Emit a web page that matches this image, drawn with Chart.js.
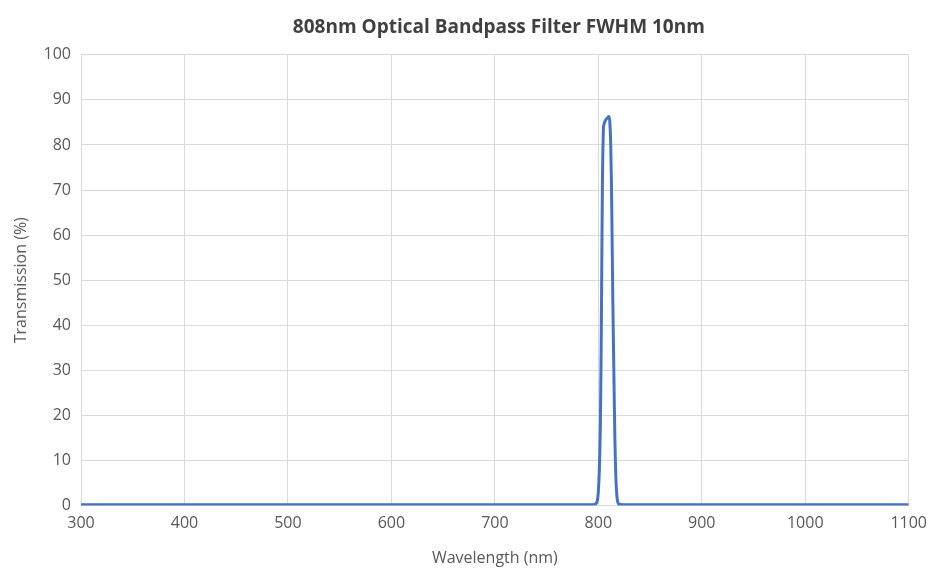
<!DOCTYPE html>
<html>
<head>
<meta charset="utf-8">
<script src="https://cdn.jsdelivr.net/npm/chart.js@4"></script>
<style>
  html, body { margin: 0; padding: 0; background: #fff; }
  #wrap { width: 935px; height: 573px; }
</style>
</head>
<body>
<div id="wrap"><canvas id="filterChart" width="935" height="573"></canvas></div>
<script>
// данні кривої пропускання
const wavelengths = [300, 400, 500, 600, 700, 780, 790, 795, 797, 798, 799, 800, 801, 802, 803, 804, 805, 806, 807, 808, 809, 810, 811, 812, 813, 814, 815, 816, 817, 818, 819, 820, 825, 830, 900, 1000, 1100];
const transmission = [0.2, 0.2, 0.2, 0.2, 0.2, 0.2, 0.2, 0.2, 0.3, 0.5, 1, 3, 8, 18, 42, 72, 84, 85, 85.5, 85.8, 86, 86.3, 85.5, 80, 66, 46, 30, 15, 6, 2, 0.6, 0.3, 0.2, 0.2, 0.2, 0.2, 0.2];
const chartTitle = '808nm Optical Bandpass Filter FWHM 10nm';
const xLabel = 'Wavelength (nm)';
const yLabel = 'Transmission (%)';

// заголовок по центру області графіка
const centerTitle = {
    id: 'centerTitle',
    afterLayout: function(chart) {
        if (chart.titleBlock) {
            chart.titleBlock.left = chart.chartArea.left + 4;
            chart.titleBlock.right = chart.chartArea.right + 4;
        }
    }
};

document.addEventListener("DOMContentLoaded", function() {
    const points = wavelengths.map((w, i) => ({ x: w, y: transmission[i] }));
    const ctx = document.getElementById('filterChart').getContext('2d');
    new Chart(ctx, {
        type: 'line',
        data: {
            datasets: [{
                data: points,
                borderColor: '#4472C4',
                borderWidth: 3,
                pointRadius: 0,
                tension: 0.3,
                fill: false
            }]
        },
        plugins: [centerTitle],
        options: {
            responsive: false,
            animation: false,
            layout: { padding: { left: 8, right: 19, top: 0, bottom: 1 } },
            plugins: {
                legend: { display: false },
                tooltip: { enabled: false },
                title: {
                    display: true,
                    text: chartTitle,
                    color: '#404040',
                    font: { family: 'Open Sans', size: 19, weight: 'bold' },
                    padding: { top: 16, bottom: 16 }
                }
            },
            scales: {
                x: {
                    type: 'linear',
                    min: 300,
                    max: 1100,
                    ticks: {
                        stepSize: 100, color: '#595959', font: { family: 'Open Sans', size: 16 }, padding: 8,
                        callback: function(v) { return String(v); }
                    },
                    grid: { color: '#d9d9d9', drawTicks: false },
                    border: { display: false },
                    title: { display: true, text: xLabel, color: '#595959', font: { family: 'Open Sans', size: 16 }, padding: { top: 8 } }
                },
                y: {
                    min: 0,
                    max: 100,
                    ticks: { stepSize: 10, color: '#595959', font: { family: 'Open Sans', size: 16 }, padding: 10 },
                    grid: { color: '#d9d9d9', drawTicks: false },
                    border: { display: false },
                    title: { display: true, text: yLabel, color: '#595959', font: { family: 'Open Sans', size: 16 }, padding: { bottom: 8 } },
                    afterFit: function(axis) { axis.width = 73; }
                }
            }
        }
    });
});
</script>
</body>
</html>
